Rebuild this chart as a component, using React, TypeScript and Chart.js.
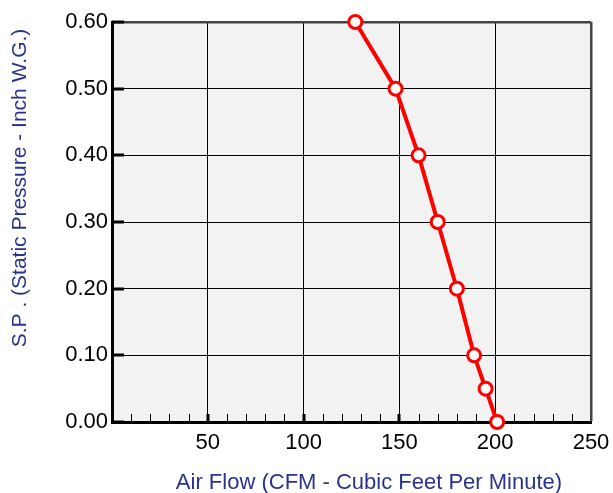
import React, { useEffect, useRef } from "react";
import { Chart, registerables } from "chart.js";

Chart.register(...registerables);

const airFlow = [127, 148, 160, 170, 180, 189, 195, 201];
const pressure = [0.6, 0.5, 0.4, 0.3, 0.2, 0.1, 0.05, 0.0];
const xTitle = "Air Flow (CFM - Cubic Feet Per Minute)";
const yTitle = "S.P . (Static Pressure - Inch W.G.)";
const FONT = "'Liberation Sans', Arial, sans-serif";
const NAVY = "#29338c";

const innerTicks = {
  id: "innerTicks",
  beforeDatasetsDraw(chart: any) {
    const { ctx, chartArea, scales } = chart;
    const xs = scales.x;
    const ys = scales.y;
    ctx.save();
    ctx.strokeStyle = "#000";
    for (let v = 10; v < 250; v += 10) {
      const px = xs.getPixelForValue(v);
      const major = v % 50 === 0;
      ctx.lineWidth = major ? 3 : 1;
      ctx.beginPath();
      ctx.moveTo(Math.round(px) + (major ? 0 : 0.5), chartArea.bottom);
      ctx.lineTo(Math.round(px) + (major ? 0 : 0.5), chartArea.bottom - 8);
      ctx.stroke();
    }
    for (let i = 0; i <= 6; i++) {
      const py = ys.getPixelForValue(i / 10);
      ctx.lineWidth = 3;
      ctx.beginPath();
      ctx.moveTo(chartArea.left, Math.round(py));
      ctx.lineTo(chartArea.left + 12, Math.round(py));
      ctx.stroke();
    }
    ctx.restore();
  },
  afterDraw(chart: any) {
    const { ctx } = chart;
    ctx.save();
    ctx.fillStyle = NAVY;
    ctx.textAlign = "center";
    ctx.textBaseline = "middle";
    ctx.font = `22px ${FONT}`;
    ctx.fillText(xTitle, 369, 483);
    ctx.font = `21px ${FONT}`;
    ctx.translate(20, 188);
    ctx.rotate(-Math.PI / 2);
    ctx.fillText(yTitle, 0, 0);
    ctx.restore();
  },
};

export default function App() {
  const ref = useRef<HTMLCanvasElement>(null);
  useEffect(() => {
    document.body.style.margin = "0";
    const chart = new Chart(ref.current!, {
      type: "scatter",
      data: {
        datasets: [
          {
            data: airFlow.map((x, i) => ({ x, y: pressure[i] })),
            showLine: true,
            clip: false,
            borderColor: "#ff0000",
            borderWidth: 4,
            pointRadius: 6.5,
            pointBorderWidth: 3,
            pointBackgroundColor: "#ffffff",
            pointBorderColor: "#ff0000",
          },
        ],
      },
      options: {
        animation: false,
        responsive: false,
        devicePixelRatio: 1,
        layout: { padding: { left: 0, right: 22, top: 22, bottom: 0 } },
        plugins: { legend: { display: false }, tooltip: { enabled: false } },
        scales: {
          x: {
            type: "linear",
            min: 0,
            max: 250,
            afterFit: (s: any) => {
              s.height = 71;
              s.paddingLeft = 0;
              s.paddingRight = 0;
            },
            ticks: {
              stepSize: 50,
              padding: 8,
              color: "#000",
              font: { family: FONT, size: 22 },
              callback: (v: any) => (v === 0 ? "" : String(v)),
            },
            grid: {
              drawTicks: false,
              color: (c: any) => (c.tick && c.tick.value === 250 ? "#444" : "#000"),
              lineWidth: (c: any) => (c.tick && c.tick.value === 250 ? 2.5 : 1),
            },
            border: { display: true, color: "#000", width: 3 },
          },
          y: {
            min: 0,
            max: 0.6,
            afterFit: (s: any) => {
              s.width = 112;
              s.paddingTop = 0;
              s.paddingBottom = 0;
            },
            ticks: {
              stepSize: 0.1,
              padding: 4,
              color: "#000",
              font: { family: FONT, size: 22 },
              callback: (v: any) => Number(v).toFixed(2),
            },
            grid: {
              drawTicks: false,
              color: (c: any) => (c.tick && Math.abs(c.tick.value - 0.6) < 1e-6 ? "#444" : "#000"),
              lineWidth: (c: any) => (c.tick && Math.abs(c.tick.value - 0.6) < 1e-6 ? 2.5 : 1),
            },
            border: { display: true, color: "#000", width: 3 },
          },
        },
      },
      plugins: [
        {
          id: "bg",
          beforeDraw(chart: any) {
            const { ctx, chartArea } = chart;
            ctx.save();
            ctx.fillStyle = "#f2f2f2";
            ctx.fillRect(chartArea.left, chartArea.top, chartArea.right - chartArea.left, chartArea.bottom - chartArea.top);
            ctx.restore();
          },
        },
        innerTicks,
      ],
    });
    return () => chart.destroy();
  }, []);
  return (
    <div style={{ width: 613, height: 493, background: "#fff" }}>
      <canvas ref={ref} width={613} height={493} />
    </div>
  );
}
